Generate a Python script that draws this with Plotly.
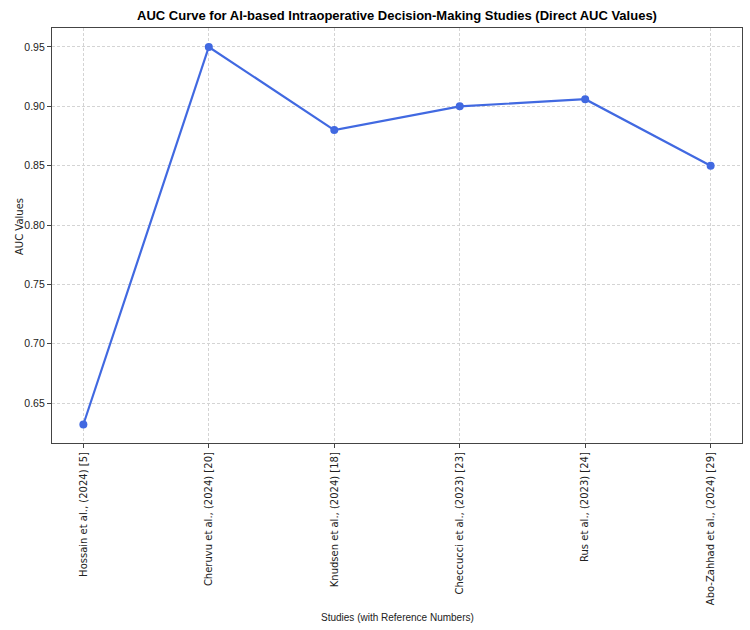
import plotly.graph_objects as go

studies = ["Hossain et al., (2024) [5]", "Cheruvu et al., (2024) [20]", "Knudsen et al., (2024) [18]",
           "Checcucci et al., (2023) [23]", "Rus et al., (2023) [24]", "Abo-Zahhad et al., (2024) [29]"]
auc_values = [0.632, 0.95, 0.88, 0.90, 0.906, 0.85]
y_ticks = [0.65, 0.70, 0.75, 0.80, 0.85, 0.90, 0.95]

L, R, T, B = 52, 8, 28, 187
W, H = 750, 630
pw, ph = W - L - R, H - T - B

fig = go.Figure()
fig.add_trace(go.Scatter(
    x=list(range(len(studies))), y=auc_values, mode="lines+markers",
    line=dict(color="#4169E1", width=2.2),
    marker=dict(color="#4169E1", size=8),
))

narrow = "Liberation Sans, Arial, sans-serif"

fig.update_layout(
    width=W, height=H,
    paper_bgcolor="white", plot_bgcolor="white",
    margin=dict(l=L, r=R, t=T, b=B),
    showlegend=False,
    title=dict(text="<b>AUC Curve for AI-based Intraoperative Decision-Making Studies (Direct AUC Values)</b>",
               x=397 / W, xanchor="center", y=1 - 15 / H, yanchor="middle",
               font=dict(family=narrow, size=13, color="black")),
)
fig.add_annotation(text="AUC Values", xref="paper", yref="paper",
                   x=(20 - L) / pw, y=1 - (227 - T) / ph, textangle=-90, showarrow=False,
                   xanchor="center", yanchor="middle",
                   font=dict(family="DejaVu Sans", size=10, color="#222"))
fig.add_annotation(text="Studies (with Reference Numbers)", xref="paper", yref="paper",
                   x=(397 - L) / pw, y=-(617 - (T + ph)) / ph, showarrow=False,
                   xanchor="center", yanchor="middle",
                   font=dict(family=narrow, size=10, color="#222"))

fig.update_xaxes(
    range=[-0.25, 5.25], tickvals=list(range(len(studies))), ticktext=studies,
    tickangle=-90, tickfont=dict(family="DejaVu Sans", size=10, color="#222"),
    showgrid=True, gridcolor="#d4d4d4", griddash="3px,2px", gridwidth=0.7,
    showline=True, linecolor="#444", linewidth=1.2, mirror=True,
    ticks="outside", ticklen=4, tickcolor="#444", zeroline=False,
)
fig.update_yaxes(
    range=[0.6164, 0.966], tickvals=y_ticks, ticktext=[f"{v:.2f}" for v in y_ticks],
    tickfont=dict(family=narrow, size=10.5, color="#222"),
    showgrid=True, gridcolor="#d4d4d4", griddash="3px,2px", gridwidth=0.7,
    showline=True, linecolor="#444", linewidth=1.2, mirror=True,
    ticks="outside", ticklen=4, tickcolor="#444", zeroline=False,
)

fig.write_html("out.html")
